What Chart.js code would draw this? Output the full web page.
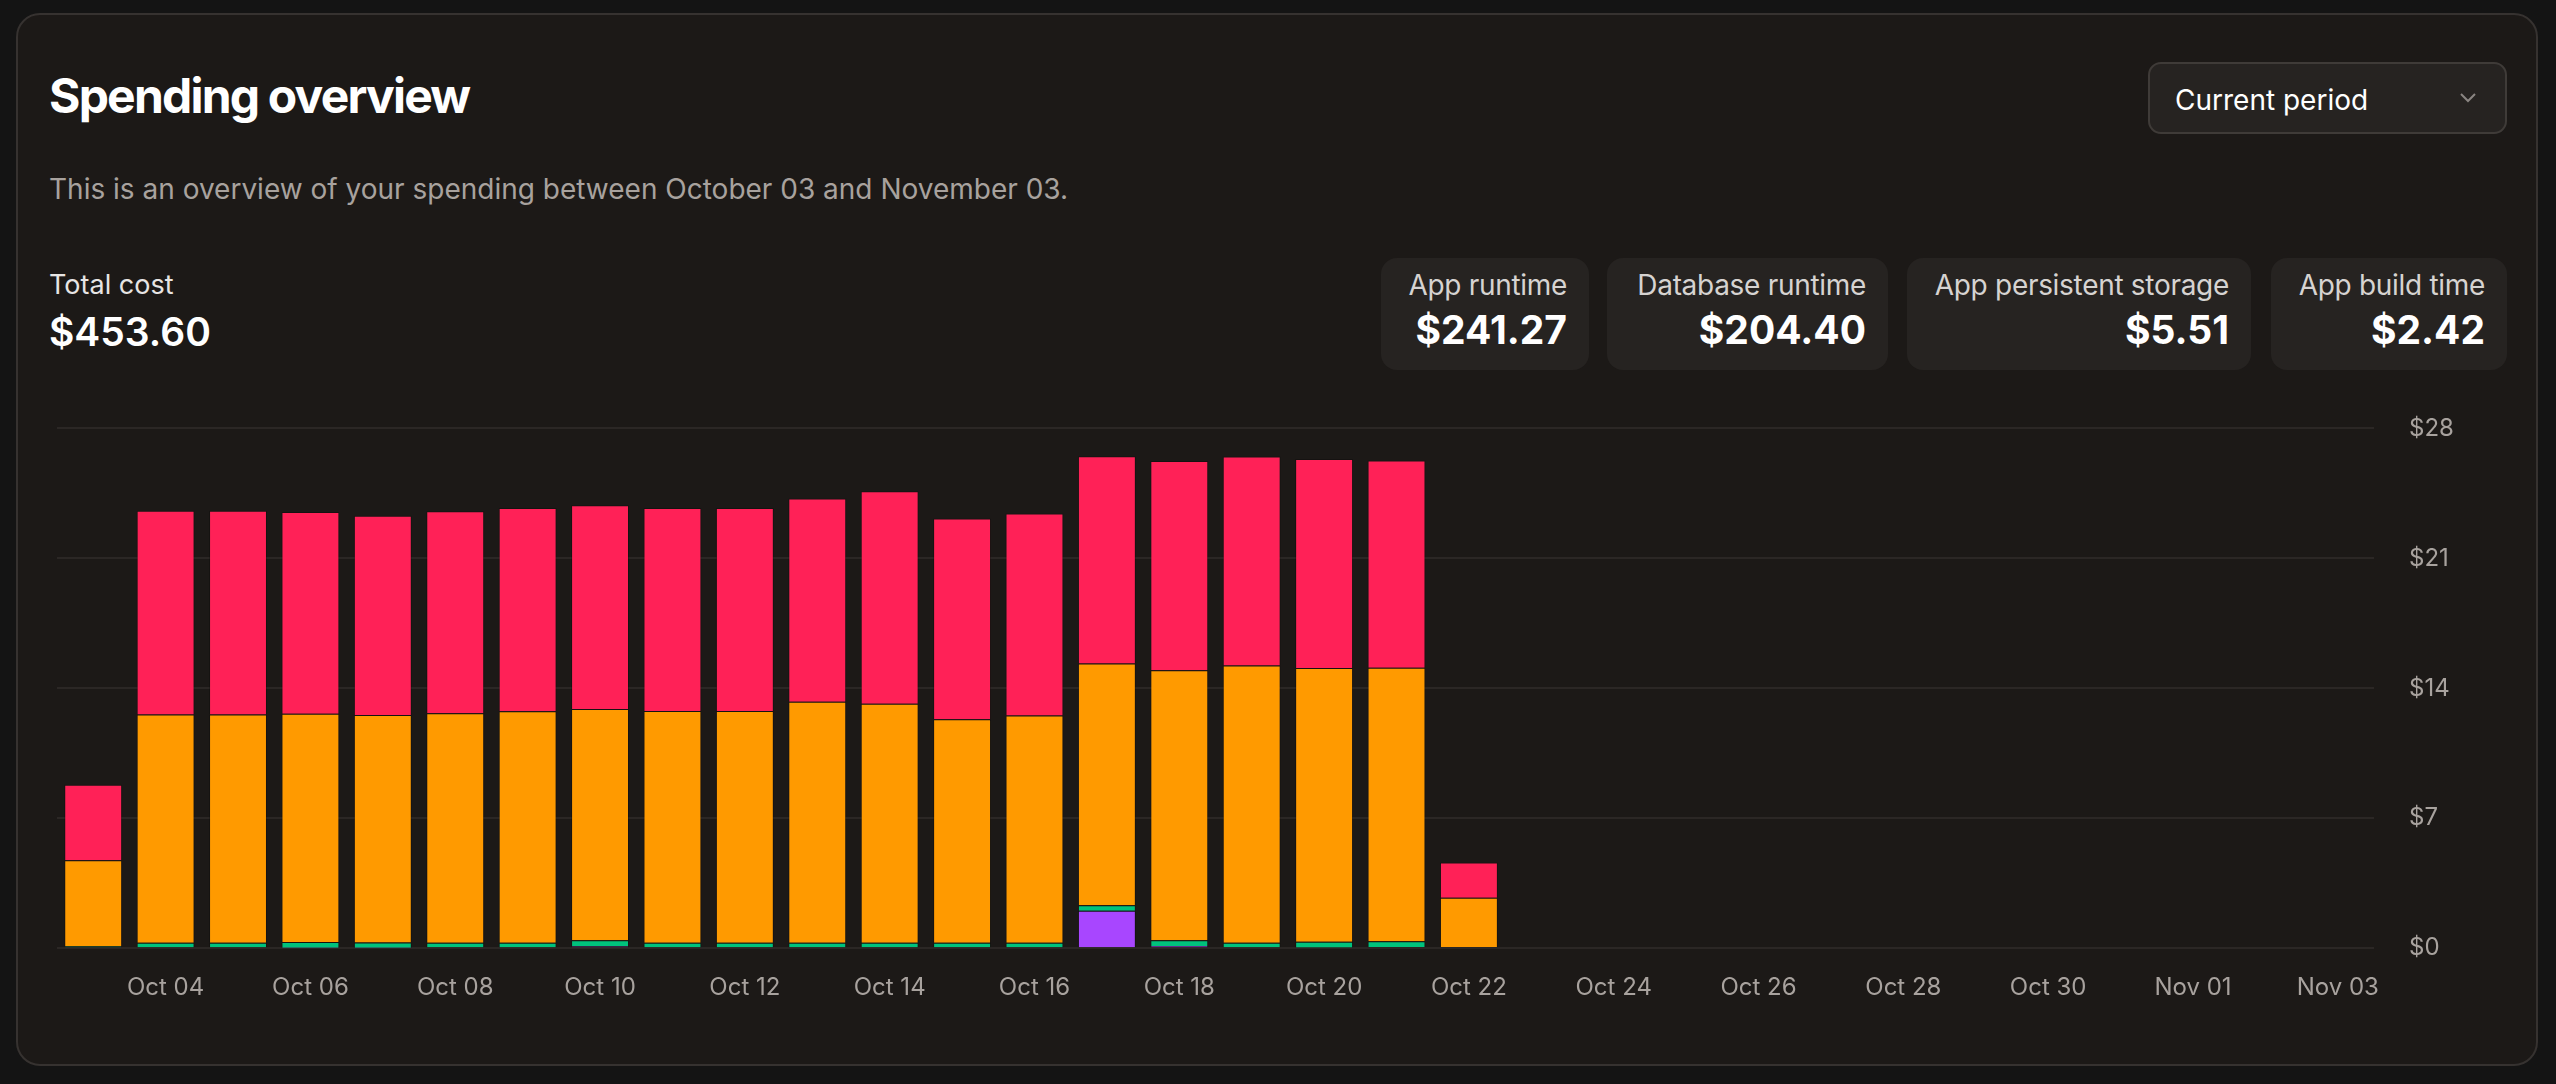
<!DOCTYPE html>
<html>
<head>
<meta charset="utf-8">
<script src="https://cdn.jsdelivr.net/npm/chart.js@4.4.1/dist/chart.umd.min.js"></script>
<style>
  html, body { margin: 0; padding: 0; }
  body { width: 2556px; height: 1084px; background: #141414; position: relative; overflow: hidden; font-family: Inter, "Noto Sans", sans-serif; }
  .card { position: absolute; left: 16px; top: 13px; width: 2522px; height: 1053px; background: #1c1917; border: 2px solid #363230; border-radius: 24px; box-sizing: border-box; }
  .title { position: absolute; left: 49px; top: 66px; font-size: 48px; font-weight: 700; color: #fff; letter-spacing: -1.8px; }
  .sub { position: absolute; left: 49px; top: 172px; font-size: 28px; color: #a8a29e; }
  .total-lbl { position: absolute; left: 49px; top: 268px; font-size: 27px; color: #e7e5e4; }
  .total-val { position: absolute; left: 49px; top: 308px; font-size: 39px; font-weight: 600; color: #fff; }
  .dropdown { position: absolute; left: 2148px; top: 62px; width: 359px; height: 72px; box-sizing: border-box; background: #262321; border: 2px solid #3f3b38; border-radius: 13px; }
  .dropdown span { position: absolute; left: 25px; top: 19px; font-size: 28px; color: #fff; }
  .dropdown svg { position: absolute; right: 28px; top: 28px; }
  .stat { position: absolute; top: 258px; height: 112px; background: #262321; border-radius: 16px; box-sizing: border-box; padding: 0 22px; text-align: right; white-space: nowrap; }
  .stat .l { margin-top: 10px; font-size: 28px; color: #d6d3d1; letter-spacing: -0.3px; }
  .stat .v { margin-top: 4px; font-size: 39px; font-weight: 700; color: #fff; }
  #wrap { position: absolute; left: 57px; top: 379px; width: 2443px; height: 640px; }
</style>
</head>
<body>
<div class="card"></div>
<div class="title">Spending overview</div>
<div class="sub">This is an overview of your spending between October 03 and November 03.</div>
<div class="total-lbl">Total cost</div>
<div class="total-val">$453.60</div>
<div class="dropdown"><span>Current period</span>
  <svg width="18" height="12" viewBox="0 0 18 12"><polyline points="2,2 9,9 16,2" fill="none" stroke="#8a8582" stroke-width="2"/></svg>
</div>
<div class="stat" style="left:1381px;width:208px"><div class="l">App runtime</div><div class="v">$241.27</div></div>
<div class="stat" style="left:1607px;width:281px"><div class="l">Database runtime</div><div class="v">$204.40</div></div>
<div class="stat" style="left:1907px;width:344px"><div class="l">App persistent storage</div><div class="v">$5.51</div></div>
<div class="stat" style="left:2271px;width:236px"><div class="l">App build time</div><div class="v">$2.42</div></div>
<div id="wrap"><canvas id="chart"></canvas></div>

<script>
const days = [
    "Oct 03", "Oct 04", "Oct 05", "Oct 06", "Oct 07", "Oct 08", "Oct 09", "Oct 10",
    "Oct 11", "Oct 12", "Oct 13", "Oct 14", "Oct 15", "Oct 16", "Oct 17", "Oct 18",
    "Oct 19", "Oct 20", "Oct 21", "Oct 22", "Oct 23", "Oct 24", "Oct 25", "Oct 26",
    "Oct 27", "Oct 28", "Oct 29", "Oct 30", "Oct 31", "Nov 01", "Nov 02", "Nov 03"
];

// daily cost per service ($)
const buildTime = [0, 0, 0, 0.03, 0.03, 0, 0, 0.1, 0, 0, 0, 0, 0, 0, 2.02, 0.12, 0, 0.04, 0.06, 0];
const persistentStorage = [0.1, 0.3, 0.3, 0.31, 0.28, 0.3, 0.3, 0.33, 0.3, 0.3, 0.3, 0.3, 0.29, 0.3, 0.29, 0.31, 0.3, 0.31, 0.31, 0.06];
const appRuntime = [4.64, 12.29, 12.29, 12.29, 12.25, 12.35, 12.46, 12.46, 12.48, 12.48, 12.97, 12.87, 12.04, 12.23, 13.03, 14.54, 14.93, 14.74, 14.74, 2.66];
const databaseRuntime = [4.07, 10.97, 10.97, 10.87, 10.73, 10.89, 10.95, 10.97, 10.93, 10.93, 10.95, 11.44, 10.81, 10.89, 11.16, 11.28, 11.26, 11.26, 11.16, 1.89];

const yTicks = [0, 7, 14, 21, 28];

const seriesColors = {
    "App build time": "#a846ff",
    "App persistent storage": "#00c27c",
    "App runtime": "#ff9a00",
    "Database runtime": "#ff2157"
};

function makeSet(label, values) {
    return {
        label: label,
        data: values,
        backgroundColor: seriesColors[label],
        borderColor: "rgba(0,0,0,0.25)",
        borderWidth: 1,
        stack: "cost"
    };
}

const ctx = document.getElementById('chart').getContext('2d');
new Chart(ctx, {
    type: 'bar',
    data: {
        labels: days,
        datasets: [
            makeSet("App build time", buildTime),
            makeSet("App persistent storage", persistentStorage),
            makeSet("App runtime", appRuntime),
            makeSet("Database runtime", databaseRuntime)
        ]
    },
    options: {
        responsive: true,
        maintainAspectRatio: false,
        animation: false,
        layout: { padding: { top: 20, bottom: 0, left: 0, right: 0 } },
        categoryPercentage: 0.8,
        barPercentage: 1.0,
        scales: {
            x: {
                stacked: true,
                grid: { display: false },
                border: { display: false },
                ticks: {
                    autoSkip: false,
                    maxRotation: 0,
                    padding: 17,
                    color: '#a8a29e',
                    font: { family: 'Inter', size: 24 },
                    callback: function(v, i) { return i % 2 === 1 ? days[i] : ''; }
                }
            },
            y: {
                stacked: true,
                position: 'right',
                min: yTicks[0],
                max: yTicks[yTicks.length - 1],
                afterBuildTicks: function(scale) { scale.ticks = yTicks.map(v => ({ value: v })); },
                afterFit: function(scale) { scale.width = 126; },
                grid: { color: '#2b2725', lineWidth: 2, drawTicks: false },
                border: { display: false },
                ticks: {
                    padding: 35,
                    color: '#a8a29e',
                    font: { family: 'Inter', size: 24 },
                    callback: function(v) { return '$' + v; }
                }
            }
        },
        plugins: {
            legend: { display: false },
            tooltip: { enabled: false }
        }
    }
});
</script>
</body>
</html>
